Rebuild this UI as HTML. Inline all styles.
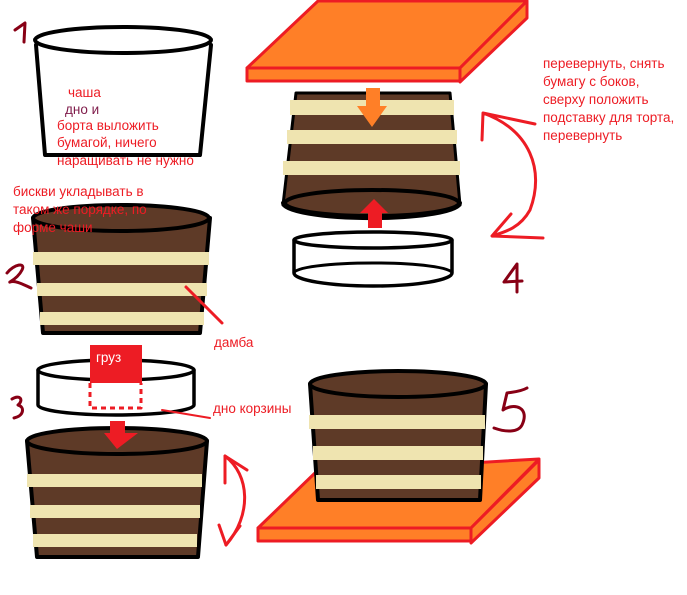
<!DOCTYPE html>
<html><head><meta charset="utf-8"><style>
html,body{margin:0;padding:0;background:#fff;width:687px;height:595px;overflow:hidden}
svg{display:block}
text{font-family:"Liberation Sans","DejaVu Sans",sans-serif;font-size:13.5px;fill:#ed1c24}
</style></head><body>
<svg width="687" height="595" viewBox="0 0 687 595" xmlns="http://www.w3.org/2000/svg">
<g stroke-linecap="round" stroke-linejoin="round">
<!-- Figure 1 -->
<path d="M36,45 L45,155 L200,155 L211,45" fill="#fff" stroke="#000" stroke-width="4"/>
<ellipse cx="123" cy="40" rx="88" ry="13" fill="#fff" stroke="#000" stroke-width="4"/>
<path d="M15,30 L25,23 L24,42" fill="none" stroke="#880015" stroke-width="3"/>
<!-- Figure 2 -->
<path d="M33,218 L43,333 L200,333 L210,218 Z" fill="#5e3a27" stroke="#000" stroke-width="4"/>
<ellipse cx="121" cy="218" rx="88" ry="13" fill="#5e3a27" stroke="#000" stroke-width="4"/>
<rect x="33" y="252" width="176" height="13" fill="#efe4b0"/>
<rect x="37" y="283" width="170" height="13" fill="#efe4b0"/>
<rect x="40" y="312" width="164" height="13" fill="#efe4b0"/>
<line x1="186" y1="287" x2="222" y2="323" stroke="#ed1c24" stroke-width="3"/>
<path d="M7,273 C14,264 26,262 22,270 C18,278 8,283 10,282 C16,280 24,285 31,288" fill="none" stroke="#880015" stroke-width="3"/>
<!-- Figure 3 -->
<path d="M38,370 L38,405 A78,10 0 0 0 194,405 L194,370" fill="#fff" stroke="#000" stroke-width="3.5"/>
<ellipse cx="116" cy="370" rx="78" ry="10" fill="#fff" stroke="#000" stroke-width="3.5"/>
<rect x="90" y="345" width="52" height="38" fill="#ed1c24" stroke="none"/>
<path d="M90,383 L90,408 L141,408 L141,383" fill="none" stroke="#ed1c24" stroke-width="3" stroke-dasharray="5,4" stroke-linecap="butt"/>
<line x1="162" y1="410" x2="210" y2="418" stroke="#ed1c24" stroke-width="2"/>
<path d="M12,399 C20,394 24,400 18,405 C25,407 24,416 14,418" fill="none" stroke="#880015" stroke-width="3"/>
<path d="M27,441 L37,557 L198,557 L207,441 Z" fill="#5e3a27" stroke="#000" stroke-width="4"/>
<ellipse cx="117" cy="441" rx="90" ry="13" fill="#5e3a27" stroke="#000" stroke-width="4"/>
<rect x="110" y="421" width="15" height="13" fill="#ed1c24"/>
<path d="M104,433 L138,433 L117,449 Z" fill="#ed1c24"/>
<rect x="27" y="474" width="175" height="13" fill="#efe4b0"/>
<rect x="30" y="505" width="170" height="13" fill="#efe4b0"/>
<rect x="33" y="534" width="164" height="13" fill="#efe4b0"/>
<path d="M225,456 C250,475 252,515 226,545" fill="none" stroke="#ed1c24" stroke-width="3"/>
<path d="M225,483 L225,456 L247,470 M219,525 L226,545 L240,526" fill="none" stroke="#ed1c24" stroke-width="3"/>
<!-- Figure 4 board -->
<path d="M247,68 L318,1 L527,1 L460,68 Z" fill="#ff7f27" stroke="#ed1c24" stroke-width="3"/>
<path d="M460,68 L527,1 L527,18 L460,82 Z" fill="#ff7f27" stroke="#ed1c24" stroke-width="3"/>
<rect x="247" y="68" width="213" height="13" fill="#ff7f27" stroke="#ed1c24" stroke-width="3"/>
<!-- cake 4 -->
<path d="M296,93 L450,93 L460,205 L283,205 Z" fill="#5e3a27" stroke="#000" stroke-width="3"/>
<path d="M283,203 A88,15 0 0 0 460,203" fill="#5e3a27" stroke="#000" stroke-width="4"/>
<ellipse cx="372" cy="203" rx="87" ry="13" fill="#5e3a27" stroke="#000" stroke-width="4"/>
<rect x="290" y="100" width="164" height="15" fill="#efe4b0"/>
<rect x="287" y="130" width="170" height="14" fill="#efe4b0"/>
<rect x="283" y="161" width="177" height="14" fill="#efe4b0"/>
<rect x="366" y="88" width="14" height="20" fill="#ff7f27"/>
<path d="M357,106 L387,106 L372,127 Z" fill="#ff7f27"/>
<rect x="368" y="212" width="14" height="16" fill="#ed1c24"/>
<path d="M360,213 L388,213 L374,199 Z" fill="#ed1c24"/>
<path d="M294,240 L294,273 A79,13 0 0 0 452,273 L452,240" fill="#fff" stroke="#000" stroke-width="3.5"/>
<path d="M294,273 A79,10 0 0 1 452,273" fill="none" stroke="#000" stroke-width="3"/>
<ellipse cx="373" cy="240" rx="79" ry="8" fill="#fff" stroke="#000" stroke-width="3.5"/>
<path d="M482,140 L483,113 L535,124 M483,113 C530,130 545,170 530,210 C520,228 505,232 492,236 L543,238 M492,236 L511,214" fill="none" stroke="#ed1c24" stroke-width="3"/>
<path d="M517,292 L517,264 L504,282 L522,281" fill="none" stroke="#880015" stroke-width="3"/>
<!-- Figure 5 board -->
<path d="M258,528 L316,472 L539,459 L471,528 Z" fill="#ff7f27" stroke="#ed1c24" stroke-width="3"/>
<path d="M471,528 L539,460 L539,478 L471,543 Z" fill="#ff7f27" stroke="#ed1c24" stroke-width="3"/>
<rect x="258" y="528" width="213" height="13" fill="#ff7f27" stroke="#ed1c24" stroke-width="3"/>
<path d="M310,384 L318,500 L480,500 L486,384 Z" fill="#5e3a27" stroke="#000" stroke-width="4"/>
<ellipse cx="398" cy="384" rx="88" ry="13" fill="#5e3a27" stroke="#000" stroke-width="4"/>
<rect x="309" y="415" width="176" height="14" fill="#efe4b0"/>
<rect x="313" y="446" width="170" height="14" fill="#efe4b0"/>
<rect x="316" y="475" width="165" height="14" fill="#efe4b0"/>
<path d="M527,388 C520,392 512,392 507,393 L503,410 C515,402 530,408 522,425 C518,433 505,432 494,428" fill="none" stroke="#880015" stroke-width="3"/>
</g>
<!-- text -->
<text x="68" y="97">чаша</text>
<text x="65" y="114" style="fill:#7f1b4a">дно и</text>
<text x="57" y="130">борта выложить</text>
<text x="57" y="147">бумагой, ничего</text>
<text x="57" y="165">наращивать не нужно</text>
<text x="13" y="196">бискви укладывать в</text>
<text x="13" y="214">таком же порядке, по</text>
<text x="13" y="232">форме чаши</text>
<text x="214" y="347">дамба</text>
<text x="96" y="362" style="fill:#fff">груз</text>
<text x="213" y="413">дно корзины</text>
<text x="543" y="68">перевернуть, снять</text>
<text x="543" y="86">бумагу с боков,</text>
<text x="543" y="104">сверху положить</text>
<text x="543" y="122">подставку для торта,</text>
<text x="543" y="140">перевернуть</text>
</svg>
</body></html>
